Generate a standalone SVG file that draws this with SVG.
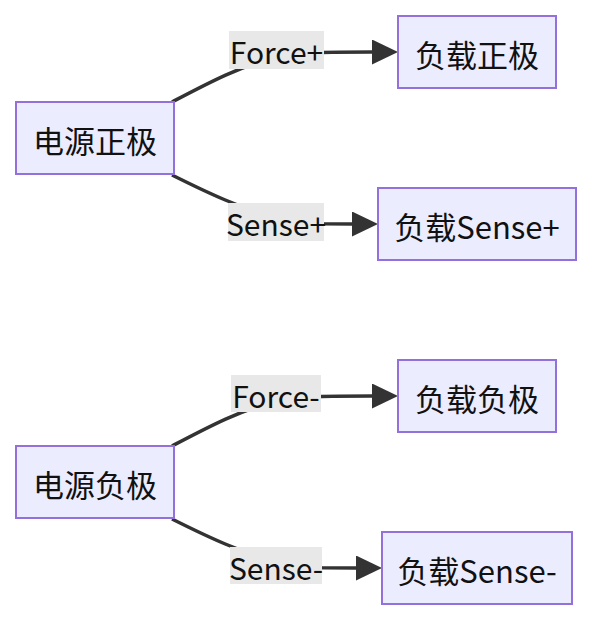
<svg xmlns="http://www.w3.org/2000/svg" width="592" height="620" viewBox="0 0 592 620">
<defs>
<style>
.node rect{fill:#ECECFF;stroke:#9370DB;stroke-width:2}
text{font-family:"Noto Sans CJK SC","Noto Sans",sans-serif;font-size:31px;fill:#111;text-anchor:middle;dominant-baseline:central}
.lbl text{font-size:30px}
.edge{fill:none;stroke:#333;stroke-width:3.5}
.lbl rect{fill:#e8e8e8}
</style>
<marker id="arrow" markerUnits="userSpaceOnUse" markerWidth="27" markerHeight="26" refX="0" refY="12.5" orient="auto">
<path d="M0,0 L26,12.5 L0,25 z" fill="#333"/>
</marker>
</defs>
<rect width="592" height="620" fill="#fff"/>
<g id="connectors">
<path class="edge" d="M172,102 C210,82 240,66 280,56 C300,52 330,52 372,52" marker-end="url(#arrow)"/>
<path class="edge" d="M172,175 C210,194 240,208 280,219 C300,224 320,224 352,224" marker-end="url(#arrow)"/>
<path class="edge" d="M172,446 C210,426 240,410 280,400 C300,396 330,396 372,396" marker-end="url(#arrow)"/>
<path class="edge" d="M172,519 C210,538 240,552 280,563 C300,568 320,568 356,568" marker-end="url(#arrow)"/>
<g class="lbl"><rect x="229" y="31" width="95" height="38"/><text x="276.5" y="51">Force+</text></g>
<g class="lbl"><rect x="228" y="203" width="96" height="38"/><text x="276" y="223">Sense+</text></g>
<g class="lbl"><rect x="231" y="375" width="90" height="37"/><text x="276" y="394.5">Force-</text></g>
<g class="lbl"><rect x="230" y="547" width="92" height="37"/><text x="276" y="566.5">Sense-</text></g>
</g>
<g id="n1" class="node"><rect x="16" y="102" width="158" height="72"/><text x="95" y="139">电源正极</text></g>
<g id="n2" class="node"><rect x="398" y="16" width="158" height="72"/><text x="477" y="53">负载正极</text></g>
<g id="n3" class="node"><rect x="378" y="188" width="198" height="72"/><text x="477" y="225">负载Sense+</text></g>
<g id="n4" class="node"><rect x="16" y="446" width="158" height="72"/><text x="95" y="483">电源负极</text></g>
<g id="n5" class="node"><rect x="398" y="360" width="158" height="72"/><text x="477" y="397">负载负极</text></g>
<g id="n6" class="node"><rect x="382" y="532" width="190" height="72"/><text x="477" y="569">负载Sense-</text></g>
</svg>
